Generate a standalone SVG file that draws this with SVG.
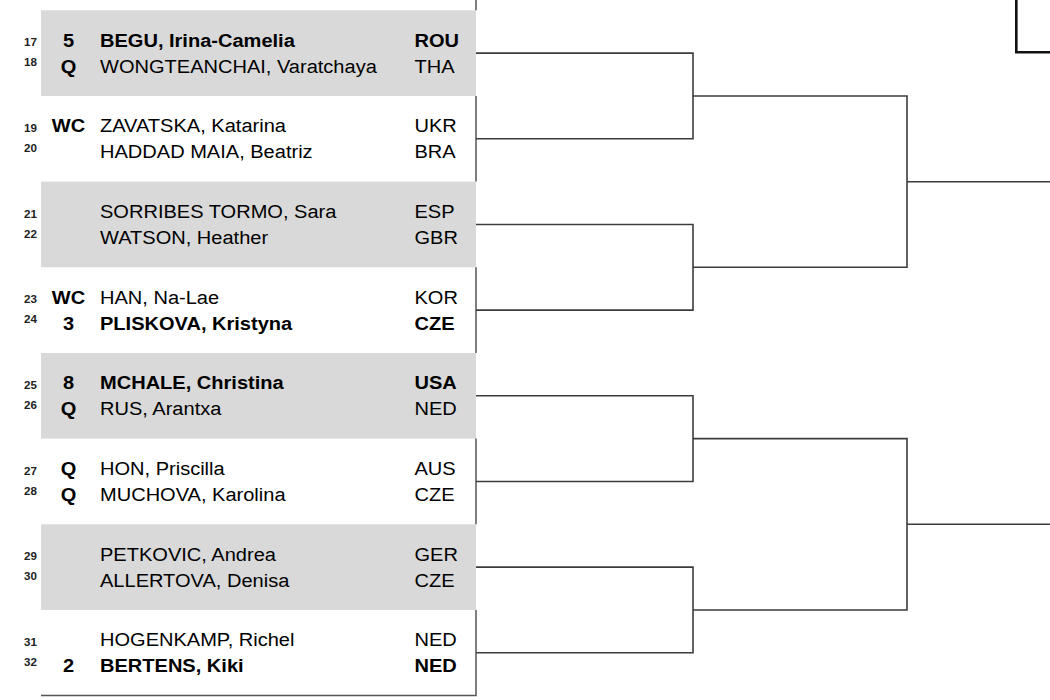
<svg xmlns="http://www.w3.org/2000/svg" width="1050" height="700" viewBox="0 0 1050 700">
<style>
.bg{fill:#ffffff}
.shade{fill:#d9d9d9}
.edge{fill:none;stroke:#555;stroke-width:1.5}
.br{fill:none;stroke:#3c3c3c;stroke-width:1.6}
.box{fill:none;stroke:#111;stroke-width:2.6}
text{font-family:"Liberation Sans",Arial,sans-serif;fill:#000}
.nm{font-size:19px}
.b{font-weight:bold}
.no{font-size:11px;font-weight:bold;fill:#222}
.sd{font-size:19px;font-weight:bold;text-anchor:middle}
</style>
<rect class="bg" x="0" y="0" width="1050" height="700"/>

<!-- block backgrounds and borders -->
<g id="blocks">
  <rect class="shade" x="41" y="10.3" width="435" height="85.7"/>
  <rect class="shade" x="41" y="181.6" width="435" height="85.7"/>
  <rect class="shade" x="41" y="353" width="435" height="85.6"/>
  <rect class="shade" x="41" y="524.3" width="435" height="85.7"/>
  <path class="edge" d="M476,0 V10.3 M476,96 V181.6 M476,267.3 V353 M476,438.6 V524.3 M476,610 V695.5 H41"/>
</g>

<g transform="scale(1.055 1)">
  <g id="node-17">
    <text class="no" x="22.75" y="46.3">17</text>
    <text class="sd" x="64.9" y="46.8">5</text>
    <text class="nm b" x="94.8" y="46.8">BEGU, Irina-Camelia</text>
    <text class="nm b" x="392.9" y="46.8">ROU</text>
  </g>
  <g id="node-18">
    <text class="no" x="22.75" y="66.3">18</text>
    <text class="sd" x="64.9" y="72.8">Q</text>
    <text class="nm" x="94.8" y="72.8">WONGTEANCHAI, Varatchaya</text>
    <text class="nm" x="392.9" y="72.8">THA</text>
  </g>
  <g id="node-19">
    <text class="no" x="22.75" y="132">19</text>
    <text class="sd" x="64.9" y="132.5">WC</text>
    <text class="nm" x="94.8" y="132.5">ZAVATSKA, Katarina</text>
    <text class="nm" x="392.9" y="132.5">UKR</text>
  </g>
  <g id="node-20">
    <text class="no" x="22.75" y="152">20</text>
    <text class="nm" x="94.8" y="158.5">HADDAD MAIA, Beatriz</text>
    <text class="nm" x="392.9" y="158.5">BRA</text>
  </g>
  <g id="node-21">
    <text class="no" x="22.75" y="217.6">21</text>
    <text class="nm" x="94.8" y="218.1">SORRIBES TORMO, Sara</text>
    <text class="nm" x="392.9" y="218.1">ESP</text>
  </g>
  <g id="node-22">
    <text class="no" x="22.75" y="237.6">22</text>
    <text class="nm" x="94.8" y="244.1">WATSON, Heather</text>
    <text class="nm" x="392.9" y="244.1">GBR</text>
  </g>
  <g id="node-23">
    <text class="no" x="22.75" y="303.3">23</text>
    <text class="sd" x="64.9" y="303.8">WC</text>
    <text class="nm" x="94.8" y="303.8">HAN, Na-Lae</text>
    <text class="nm" x="392.9" y="303.8">KOR</text>
  </g>
  <g id="node-24">
    <text class="no" x="22.75" y="323.3">24</text>
    <text class="sd" x="64.9" y="329.8">3</text>
    <text class="nm b" x="94.8" y="329.8">PLISKOVA, Kristyna</text>
    <text class="nm b" x="392.9" y="329.8">CZE</text>
  </g>
  <g id="node-25">
    <text class="no" x="22.75" y="389">25</text>
    <text class="sd" x="64.9" y="389.5">8</text>
    <text class="nm b" x="94.8" y="389.5">MCHALE, Christina</text>
    <text class="nm b" x="392.9" y="389.5">USA</text>
  </g>
  <g id="node-26">
    <text class="no" x="22.75" y="409">26</text>
    <text class="sd" x="64.9" y="415.5">Q</text>
    <text class="nm" x="94.8" y="415.5">RUS, Arantxa</text>
    <text class="nm" x="392.9" y="415.5">NED</text>
  </g>
  <g id="node-27">
    <text class="no" x="22.75" y="474.6">27</text>
    <text class="sd" x="64.9" y="475.1">Q</text>
    <text class="nm" x="94.8" y="475.1">HON, Priscilla</text>
    <text class="nm" x="392.9" y="475.1">AUS</text>
  </g>
  <g id="node-28">
    <text class="no" x="22.75" y="494.6">28</text>
    <text class="sd" x="64.9" y="501.1">Q</text>
    <text class="nm" x="94.8" y="501.1">MUCHOVA, Karolina</text>
    <text class="nm" x="392.9" y="501.1">CZE</text>
  </g>
  <g id="node-29">
    <text class="no" x="22.75" y="560.3">29</text>
    <text class="nm" x="94.8" y="560.8">PETKOVIC, Andrea</text>
    <text class="nm" x="392.9" y="560.8">GER</text>
  </g>
  <g id="node-30">
    <text class="no" x="22.75" y="580.3">30</text>
    <text class="nm" x="94.8" y="586.8">ALLERTOVA, Denisa</text>
    <text class="nm" x="392.9" y="586.8">CZE</text>
  </g>
  <g id="node-31">
    <text class="no" x="22.75" y="646">31</text>
    <text class="nm" x="94.8" y="646.5">HOGENKAMP, Richel</text>
    <text class="nm" x="392.9" y="646.5">NED</text>
  </g>
  <g id="node-32">
    <text class="no" x="22.75" y="666">32</text>
    <text class="sd" x="64.9" y="672.5">2</text>
    <text class="nm b" x="94.8" y="672.5">BERTENS, Kiki</text>
    <text class="nm b" x="392.9" y="672.5">NED</text>
  </g>
</g>

<g id="connectors">
  <path class="br" d="M476,53.1 H693 V138.8 H476"/>
  <path class="br" d="M476,224.5 H693 V310.1 H476"/>
  <path class="br" d="M476,395.8 H693 V481.5 H476"/>
  <path class="br" d="M476,567.1 H693 V652.8 H476"/>
  <path class="br" d="M693,96 H907 V267.3 H693"/>
  <path class="br" d="M693,438.6 H907 V610 H693"/>
  <path class="br" d="M907,181.7 H1050"/>
  <path class="br" d="M907,524.3 H1050"/>
  <path class="box" d="M1016.3,0 V52.3 H1050"/>
</g>
</svg>
